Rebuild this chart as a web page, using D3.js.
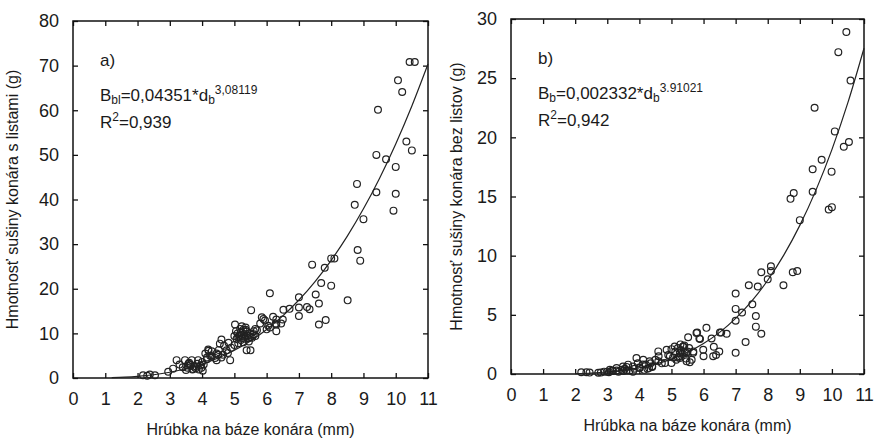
<!DOCTYPE html>
<html>
<head>
<meta charset="utf-8">
<script src="https://cdn.jsdelivr.net/npm/d3@7"></script>
<style>
  body { margin: 0; background: #fff; }
  svg text { font-family: "Liberation Sans", Arial, sans-serif; fill: #1a1a1a; }
</style>
</head>
<body>
<script>
// a) branch diameter (mm) vs dry mass with leaves (g)
var diamA = [10.43, 10.59, 10.07, 10.20, 9.45, 10.33, 10.50, 9.40, 9.70, 10.00,
             8.80, 9.40, 10.00, 9.93, 8.73, 9.00, 8.82, 8.90, 7.41, 7.80,
             8.00, 8.10, 7.69, 8.00, 7.52, 8.51, 7.62, 7.00, 7.00, 7.25,
             7.33, 7.00, 7.83, 7.62, 6.10, 6.71, 6.52, 5.52, 6.50, 6.20,
             6.30, 5.85, 5.90, 6.30, 6.30, 6.00, 5.80, 5.70, 5.02, 5.23,
             5.95, 6.28, 6.10, 5.07, 5.15, 5.20, 5.25, 5.30, 5.33, 5.10,
             5.20, 5.40, 5.45, 5.35, 5.60, 5.50, 5.38, 5.50, 4.60, 4.55,
             4.19, 4.76, 4.87, 4.45, 4.10, 4.25, 4.40, 4.65, 4.90, 4.30,
             3.21, 3.47, 3.68, 3.88, 3.30, 3.55, 3.75, 3.95, 3.70, 3.80,
             3.60, 4.00, 4.15, 2.95, 3.10, 3.40, 2.17, 2.38, 2.54, 2.30,
             5.00, 4.80, 4.50, 5.65, 6.45, 6.05,
             5.05, 5.12, 5.18, 5.22, 5.28, 5.32, 5.38, 5.42, 5.48, 5.55,
             5.60, 5.28, 5.12, 5.65, 5.00, 5.35,
             3.55, 3.65, 3.72, 3.82, 3.90, 3.98, 4.05, 3.58, 3.85, 4.02, 3.50,
             4.15, 4.30, 4.45, 4.52, 4.68, 4.82, 4.20, 4.60];
var massA = [70.8, 70.8, 66.7, 64.1, 60.1, 53.0, 51.0, 50.0, 49.0, 47.3,
             43.5, 41.6, 41.3, 37.5, 38.8, 35.6, 28.7, 26.3, 25.4, 24.7,
             26.8, 26.8, 21.3, 20.7, 18.7, 17.4, 16.7, 18.1, 15.8, 15.9,
             15.4, 13.9, 13.0, 12.0, 19.0, 15.5, 15.3, 15.2, 13.1, 13.7,
             13.1, 13.6, 13.2, 12.0, 10.5, 10.9, 12.2, 10.7, 12.0, 11.6,
             12.9, 12.2, 11.3, 8.8, 9.5, 10.3, 9.0, 9.8, 8.8, 10.0,
             8.5, 9.5, 8.2, 10.8, 9.8, 9.2, 6.2, 6.2, 8.6, 7.7,
             6.4, 6.2, 4.0, 4.0, 5.5, 5.0, 4.5, 5.2, 6.8, 6.0,
             4.0, 4.0, 4.0, 4.0, 3.0, 2.8, 2.5, 2.8, 1.9, 2.2,
             3.4, 3.6, 4.6, 1.4, 2.1, 2.4, 0.6, 0.8, 0.6, 0.5,
             7.4, 5.6, 5.2, 11.0, 12.2, 11.7,
             10.5, 9.2, 11.0, 9.7, 10.8, 9.3, 10.4, 8.9, 10.0, 9.0,
             10.5, 8.0, 7.8, 9.4, 9.4, 11.3,
             2.3, 2.9, 2.0, 2.6, 1.9, 2.3, 3.0, 3.2, 3.2, 1.6, 1.8,
             4.2, 4.8, 5.5, 6.3, 7.2, 7.9, 6.1, 4.6];

// b) branch diameter (mm) vs dry mass without leaves (g)
var diamB = [10.45, 10.20, 10.58, 9.46, 10.09, 10.53, 10.37, 9.68, 9.40, 9.99,
             9.40, 8.71, 8.81, 9.90, 10.00, 9.00, 8.78, 8.92, 8.10, 8.10,
             8.00, 7.80, 8.49, 7.41, 7.69, 7.00, 7.52, 7.00, 7.20, 7.00,
             7.63, 7.63, 7.80, 7.31, 7.00, 6.72, 6.51, 6.55, 6.09, 5.80,
             5.87, 5.52, 6.25, 6.32, 6.49, 6.39, 6.30, 6.00, 5.68, 5.57,
             5.37, 5.42, 3.91, 5.78, 5.89, 4.59, 4.85, 5.10, 5.36, 5.26,
             5.47, 5.68, 5.99, 4.12, 4.32, 4.59, 4.80, 5.00, 5.26, 5.47,
             5.63, 3.08, 3.29, 3.49, 3.65, 3.80, 4.01, 3.00, 3.18, 3.29,
             3.50, 3.60, 3.80, 2.19, 2.35, 2.45, 2.72, 2.80, 4.20, 4.40,
             4.95, 5.20, 3.95, 4.25,
             4.90, 5.00, 5.05, 5.12, 5.20, 5.25, 5.30, 5.35, 5.40, 5.45,
             5.50, 5.55, 5.15, 5.28,
             2.90, 3.05, 3.15, 3.35, 3.45, 3.55, 3.70, 3.85, 4.00, 4.15,
             4.30, 4.40, 3.60, 4.10, 4.35, 4.50, 4.60, 4.70];
var massB = [28.9, 27.2, 24.8, 22.5, 20.5, 19.6, 19.2, 18.1, 17.3, 17.1,
             15.4, 14.8, 15.3, 13.9, 14.1, 13.0, 8.6, 8.7, 9.1, 8.7,
             8.0, 8.6, 7.5, 7.5, 7.4, 6.8, 5.9, 5.5, 5.2, 4.5,
             4.9, 4.0, 3.4, 2.7, 1.8, 3.4, 3.5, 3.5, 3.9, 3.5,
             3.0, 3.1, 3.0, 2.3, 1.9, 1.6, 1.5, 1.5, 1.8, 1.0,
             2.3, 1.9, 1.35, 3.47, 2.96, 1.91, 2.05, 2.33, 2.33, 1.78,
             1.78, 1.91, 2.05, 1.2, 1.07, 1.07, 0.93, 0.93, 1.35, 1.07,
             1.2, 0.36, 0.5, 0.64, 0.79, 0.64, 0.5, 0.2, 0.25, 0.3,
             0.25, 0.3, 0.2, 0.15, 0.15, 0.12, 0.1, 0.12, 0.8, 0.6,
             1.5, 1.4, 0.9, 0.45,
             1.6, 2.1, 1.4, 1.9, 2.2, 1.5, 2.0, 1.7, 2.4, 1.3,
             1.9, 2.2, 1.2, 2.5,
             0.2, 0.15, 0.3, 0.2, 0.35, 0.45, 0.3, 0.45, 0.55, 0.35,
             0.5, 0.65, 0.6, 0.8, 0.9, 1.2, 1.5, 0.9];

// fitted power models printed on the chart: B = a * d^b
var coefA = [0.04351, 3.08119];
var coefB = [0.002332, 3.91021];
var curveDiamA = [1.2, 1.6, 2, 2.5, 3, 3.5, 4, 4.5, 5, 5.5, 6, 6.5, 7, 7.5, 8, 8.5, 9, 9.5, 10, 10.5, 11];
var curveDiamB = [2, 2.5, 3, 3.5, 4, 4.5, 5, 5.5, 6, 6.5, 7, 7.5, 8, 8.5, 9, 9.5, 10, 10.5, 11];

var xTicks = [0, 1, 2, 3, 4, 5, 6, 7, 8, 9, 10, 11];
var yTicksA = [0, 10, 20, 30, 40, 50, 60, 70, 80];
var yTicksB = [0, 5, 10, 15, 20, 25, 30];

var svg = d3.select("body").append("svg")
    .attr("width", 874)
    .attr("height", 441);

function drawPanel(opt) {
    var w = opt.w, h = opt.h;
    var g = svg.append("g").attr("transform", "translate(" + opt.left + "," + opt.top + ")");

    var x = d3.scaleLinear().domain([0, 11]).range([0, w]);
    var y = d3.scaleLinear().domain([0, opt.yMax]).range([h, 0]);

    // ticks point inward on all four sides
    var tk = 5;
    g.append("g").attr("transform", "translate(0," + h + ")")
        .call(d3.axisBottom(x).tickValues(xTicks).tickSize(-tk).tickPadding(14));
    g.append("g")
        .call(d3.axisTop(x).tickValues(xTicks).tickSize(-tk).tickFormat(""));
    g.append("g")
        .call(d3.axisLeft(y).tickValues(opt.yTicks).tickSize(-tk).tickPadding(14));
    g.append("g").attr("transform", "translate(" + w + ",0)")
        .call(d3.axisRight(y).tickValues(opt.yTicks).tickSize(-tk).tickFormat(""));

    g.selectAll(".domain").remove();
    g.selectAll(".tick line").attr("stroke", "#111").attr("stroke-width", 1.3);
    g.selectAll(".tick text").attr("font-size", "18px").attr("fill", "#1a1a1a")
        .style("font-family", "Liberation Sans, Arial, sans-serif");

    g.append("rect")
        .attr("width", w).attr("height", h)
        .attr("fill", "none").attr("stroke", "#111").attr("stroke-width", 1.5);

    // fitted curve
    var line = d3.line()
        .x(function(d) { return x(d); })
        .y(function(d) { return y(opt.coef[0] * Math.pow(d, opt.coef[1])); })
        .curve(d3.curveMonotoneX);
    g.append("path").datum(opt.curveDiam)
        .attr("d", line)
        .attr("fill", "none").attr("stroke", "#222").attr("stroke-width", 1.2);

    g.selectAll("circle.pt")
        .data(opt.xs)
        .enter()
        .append("circle")
        .attr("class", "pt")
        .attr("cx", function(d) { return x(d); })
        .attr("cy", function(d, i) { return y(opt.ys[i]); })
        .attr("r", 3.4)
        .attr("fill", "none")
        .attr("stroke", "#222")
        .attr("stroke-width", 1.2);

    // panel letter
    g.append("text").attr("x", 27).attr("y", 45)
        .attr("font-size", "17px").text(opt.letter);

    // equation
    var eq = g.append("text").attr("x", 27).attr("y", 80).attr("font-size", "17px");
    eq.append("tspan").text("B");
    eq.append("tspan").attr("baseline-shift", "-25%").attr("font-size", "12px").text(opt.sub);
    eq.append("tspan").text(opt.mid);
    eq.append("tspan").attr("baseline-shift", "-25%").attr("font-size", "12px").text("b");
    eq.append("tspan").attr("baseline-shift", "55%").attr("font-size", "12px").text(opt.exp);

    var r2 = g.append("text").attr("x", 27).attr("y", 107).attr("font-size", "17px");
    r2.append("tspan").text("R");
    r2.append("tspan").attr("baseline-shift", "55%").attr("font-size", "12px").text("2");
    r2.append("tspan").text(opt.r2);

    // axis titles
    g.append("text")
        .attr("x", w / 2).attr("y", h + 57)
        .attr("text-anchor", "middle").attr("font-size", "16px")
        .text("Hrúbka na báze konára (mm)");
    g.append("text")
        .attr("transform", "translate(" + opt.yTitleX + "," + (h / 2) + ") rotate(-90)")
        .attr("text-anchor", "middle").attr("font-size", "16px")
        .text(opt.yTitle);
}

drawPanel({
    left: 73, top: 21, w: 355, h: 357, yMax: 80, yTicks: yTicksA,
    xs: diamA, ys: massA, coef: coefA, curveDiam: curveDiamA,
    letter: "a)", sub: "bl", mid: "=0,04351*d", exp: "3,08119", r2: "=0,939",
    yTitle: "Hmotnosť sušiny konára s listami (g)", yTitleX: -55
});

drawPanel({
    left: 511, top: 19, w: 353, h: 355, yMax: 30, yTicks: yTicksB,
    xs: diamB, ys: massB, coef: coefB, curveDiam: curveDiamB,
    letter: "b)", sub: "b", mid: "=0,002332*d", exp: "3.91021", r2: "=0,942",
    yTitle: "Hmotnosť sušiny konára bez listov (g)", yTitleX: -49
});
</script>
</body>
</html>
